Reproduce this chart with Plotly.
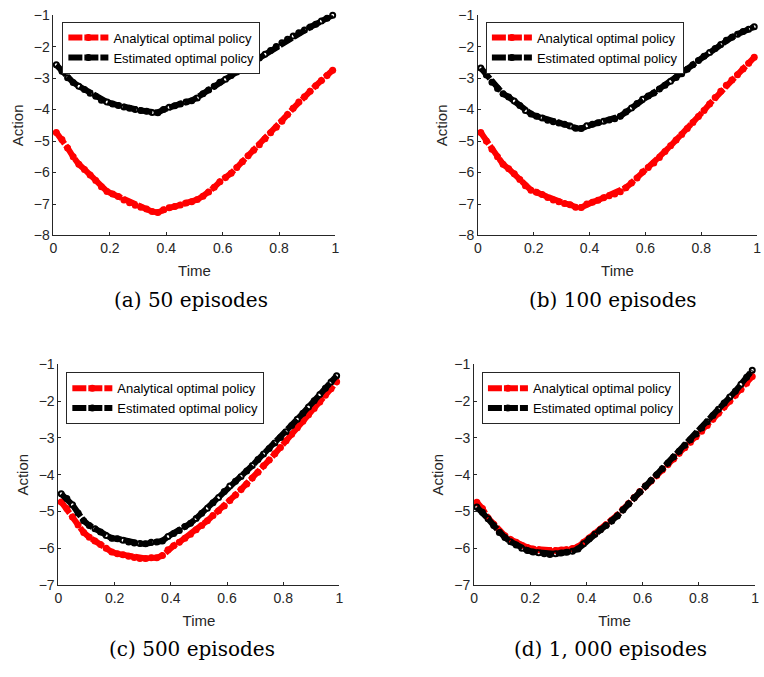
import plotly.graph_objects as go

# Time grid shared by all four runs
time = [0.01, 0.03, 0.05, 0.07, 0.09, 0.11, 0.13, 0.15, 0.17, 0.19,
        0.21, 0.23, 0.25, 0.27, 0.29, 0.31, 0.33, 0.35, 0.37, 0.39,
        0.41, 0.43, 0.45, 0.47, 0.49, 0.51, 0.53, 0.55, 0.57, 0.59,
        0.61, 0.63, 0.65, 0.67, 0.69, 0.71, 0.73, 0.75, 0.77, 0.79,
        0.81, 0.83, 0.85, 0.87, 0.89, 0.91, 0.93, 0.95, 0.97, 0.99]

# 50 episodes
analytical_50 = [-4.73, -4.95, -5.22, -5.50, -5.74, -5.90, -6.08, -6.25, -6.45, -6.60,
                 -6.68, -6.76, -6.87, -6.96, -7.04, -7.10, -7.16, -7.24, -7.27, -7.18,
                 -7.12, -7.08, -7.03, -6.97, -6.93, -6.86, -6.75, -6.62, -6.47, -6.29,
                 -6.16, -6.02, -5.84, -5.66, -5.47, -5.29, -5.12, -4.93, -4.74, -4.56,
                 -4.37, -4.16, -3.96, -3.76, -3.59, -3.42, -3.24, -3.08, -2.92, -2.75]
estimated_50 = [-2.58, -2.78, -2.99, -3.14, -3.26, -3.36, -3.48, -3.58, -3.70, -3.76,
                -3.82, -3.87, -3.92, -3.96, -4.00, -4.03, -4.05, -4.09, -4.10, -4.00,
                -3.93, -3.88, -3.82, -3.76, -3.72, -3.63, -3.50, -3.38, -3.26, -3.13,
                -3.04, -2.92, -2.81, -2.70, -2.58, -2.47, -2.36, -2.24, -2.12, -2.00,
                -1.88, -1.77, -1.66, -1.56, -1.47, -1.38, -1.29, -1.19, -1.10, -1.00]

# 100 episodes
analytical_100 = [-4.73, -5.00, -5.26, -5.50, -5.74, -5.88, -6.04, -6.22, -6.42, -6.56,
                  -6.63, -6.70, -6.79, -6.87, -6.93, -6.98, -7.02, -7.10, -7.11, -7.00,
                  -6.94, -6.88, -6.80, -6.74, -6.68, -6.61, -6.48, -6.33, -6.17, -5.98,
                  -5.84, -5.70, -5.52, -5.33, -5.15, -4.97, -4.79, -4.60, -4.41, -4.22,
                  -4.03, -3.82, -3.62, -3.42, -3.23, -3.06, -2.89, -2.71, -2.53, -2.34]
estimated_100 = [-2.68, -2.90, -3.13, -3.33, -3.50, -3.60, -3.73, -3.87, -4.03, -4.14,
                 -4.21, -4.27, -4.34, -4.39, -4.43, -4.47, -4.52, -4.59, -4.60, -4.51,
                 -4.47, -4.42, -4.37, -4.33, -4.29, -4.21, -4.08, -3.95, -3.81, -3.67,
                 -3.57, -3.47, -3.35, -3.23, -3.10, -2.98, -2.86, -2.72, -2.58, -2.44,
                 -2.31, -2.19, -2.06, -1.93, -1.80, -1.70, -1.61, -1.52, -1.45, -1.37]

# 500 episodes
analytical_500 = [-4.74, -4.92, -5.15, -5.37, -5.57, -5.70, -5.80, -5.90, -6.00, -6.10,
                  -6.15, -6.18, -6.22, -6.25, -6.28, -6.28, -6.26, -6.26, -6.20, -6.04,
                  -5.93, -5.84, -5.73, -5.62, -5.50, -5.38, -5.25, -5.11, -4.98, -4.85,
                  -4.70, -4.55, -4.40, -4.25, -4.09, -3.93, -3.76, -3.60, -3.43, -3.26,
                  -3.08, -2.90, -2.72, -2.55, -2.37, -2.20, -2.02, -1.84, -1.66, -1.47]
estimated_500 = [-4.52, -4.65, -4.82, -5.04, -5.25, -5.38, -5.47, -5.56, -5.65, -5.73,
                 -5.74, -5.78, -5.83, -5.86, -5.87, -5.88, -5.84, -5.83, -5.80, -5.68,
                 -5.60, -5.52, -5.41, -5.32, -5.19, -5.05, -4.91, -4.76, -4.62, -4.46,
                 -4.31, -4.18, -4.05, -3.90, -3.75, -3.59, -3.44, -3.29, -3.14, -2.99,
                 -2.83, -2.66, -2.49, -2.33, -2.16, -1.99, -1.82, -1.65, -1.48, -1.31]

# 1,000 episodes
analytical_1000 = [-4.75, -4.92, -5.18, -5.35, -5.53, -5.66, -5.76, -5.84, -5.92, -5.98,
                   -6.02, -6.04, -6.06, -6.07, -6.06, -6.05, -6.04, -6.01, -5.96, -5.84,
                   -5.72, -5.60, -5.48, -5.36, -5.24, -5.10, -4.94, -4.78, -4.62, -4.46,
                   -4.31, -4.17, -4.02, -3.87, -3.72, -3.57, -3.42, -3.27, -3.12, -2.97,
                   -2.82, -2.66, -2.49, -2.33, -2.16, -2.00, -1.84, -1.68, -1.51, -1.33]
estimated_1000 = [-4.88, -5.02, -5.20, -5.38, -5.57, -5.71, -5.82, -5.91, -6.00, -6.06,
                  -6.10, -6.12, -6.15, -6.17, -6.15, -6.13, -6.11, -6.08, -6.02, -5.88,
                  -5.74, -5.62, -5.50, -5.38, -5.26, -5.12, -4.96, -4.80, -4.63, -4.47,
                  -4.31, -4.16, -4.00, -3.84, -3.68, -3.52, -3.36, -3.20, -3.05, -2.89,
                  -2.73, -2.56, -2.39, -2.22, -2.05, -1.89, -1.73, -1.54, -1.35, -1.16]

captions = ["(a) 50 episodes", "(b) 100 episodes", "(c) 500 episodes", "(d) 1, 000 episodes"]
y_ranges = [[-8, -1], [-8, -1], [-7, -1], [-7, -1]]
series = [(analytical_50, estimated_50), (analytical_100, estimated_100),
          (analytical_500, estimated_500), (analytical_1000, estimated_1000)]

W, H = 764, 677
# plot-area boxes in pixels: left, right, top, bottom
boxes = [(50, 335, 7.3, 233), (479, 761, 7.3, 233),
         (55, 339, 365, 591), (475, 759, 365, 591)]
legend_pos = [(59, 14), (487, 14), (63, 373), (483, 373)]
caption_pos = [(189, 299), (615, 299), (190, 657), (613, 657)]

AXIS_COLOR = "#262626"
SANS = "Liberation Sans, Arial, sans-serif"

fig = go.Figure()
layout = dict(width=W, height=H, margin=dict(l=0, r=0, t=0, b=0),
              paper_bgcolor="white", plot_bgcolor="white", annotations=[])

for i, ((ana, est), yr, box) in enumerate(zip(series, y_ranges, boxes)):
    n = "" if i == 0 else str(i + 1)
    leg = "legend" + n
    xa, ya = "x" + n, "y" + n
    fig.add_trace(go.Scatter(
        x=time, y=ana, xaxis=xa, yaxis=ya, legend=leg,
        name="Analytical optimal policy", mode="lines+markers",
        line=dict(color="#ff0000", width=6, dash="14px,2px"),
        marker=dict(symbol="circle", size=7, color="#ff0000"),
        cliponaxis=False))
    fig.add_trace(go.Scatter(
        x=time, y=est, xaxis=xa, yaxis=ya, legend=leg,
        name="Estimated optimal policy", mode="lines+markers",
        line=dict(color="#000000", width=6, dash="14px,2px"),
        marker=dict(symbol="circle-open", size=5, color="#000000",
                    line=dict(width=2, color="#000000")),
        cliponaxis=False))

    l, r, t, b = box
    common = dict(showline=True, linecolor=AXIS_COLOR, linewidth=1, mirror=False,
                  ticks="inside", ticklen=3, tickcolor=AXIS_COLOR, showgrid=False,
                  zeroline=False, tickfont=dict(family=SANS, size=14, color=AXIS_COLOR))
    layout["xaxis" + n] = dict(
        domain=[l / W, r / W], anchor=ya, range=[0, 1],
        tickvals=[0, 0.2, 0.4, 0.6, 0.8, 1], ticktext=["0", "0.2", "0.4", "0.6", "0.8", "1"],
        title=dict(text="Time", font=dict(family=SANS, size=15, color=AXIS_COLOR), standoff=10),
        **common)
    layout["yaxis" + n] = dict(
        domain=[1 - b / H, 1 - t / H], anchor=xa, range=yr,
        tickvals=list(range(yr[0], yr[1] + 1)),
        title=dict(text="Action", font=dict(family=SANS, size=15, color=AXIS_COLOR), standoff=6),
        **common)

    lx, ly = legend_pos[i]
    layout[leg] = dict(x=lx / W, y=1 - ly / H, xanchor="left", yanchor="top",
                       bgcolor="white", bordercolor=AXIS_COLOR, borderwidth=1,
                       font=dict(family=SANS, size=13, color="#000000"),
                       tracegroupgap=0, itemwidth=40)

    cx, cy = caption_pos[i]
    layout["annotations"].append(dict(
        text=captions[i], xref="paper", yref="paper", x=cx / W, y=1 - cy / H,
        xanchor="center", yanchor="middle", showarrow=False,
        font=dict(family="DejaVu Serif, serif", size=20, color="#000000")))

fig.update_layout(**layout)
fig.write_html("out.html")
